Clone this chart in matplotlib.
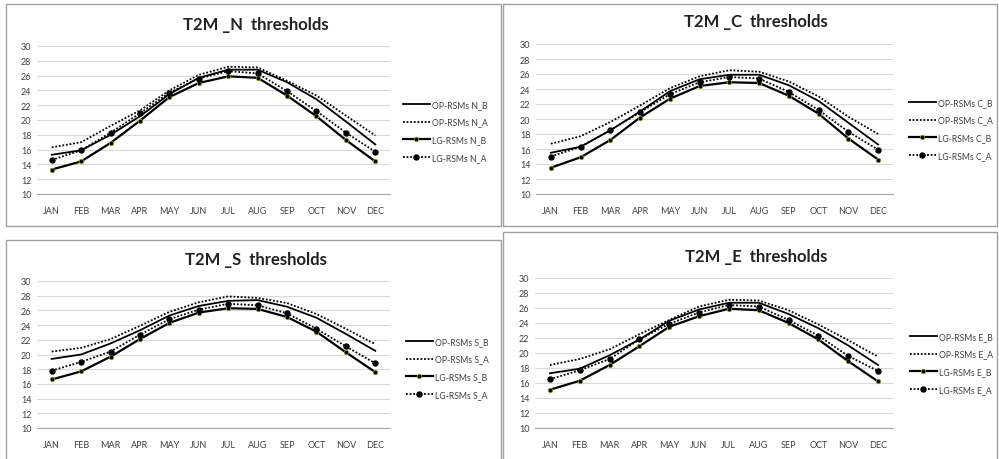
import matplotlib
matplotlib.use("Agg")
import matplotlib.pyplot as plt
from matplotlib.patches import Rectangle

plt.rcParams['font.family'] = ['Lato', 'DejaVu Sans']

months = ["JAN", "FEB", "MAR", "APR", "MAY", "JUN", "JUL", "AUG", "SEP", "OCT", "NOV", "DEC"]
regions = ["N", "C", "S", "E"]

# N region
N_OP_B = [15.3, 15.9, 18.0, 20.5, 23.5, 25.7, 26.8, 26.8, 25.1, 22.8, 19.8, 16.7]
N_OP_A = [16.3, 17.0, 19.2, 21.3, 24.0, 26.1, 27.2, 27.1, 25.3, 23.3, 20.6, 17.9]
N_LG_B = [13.3, 14.4, 16.9, 19.9, 23.1, 25.0, 25.9, 25.7, 23.3, 20.5, 17.3, 14.4]
N_LG_A = [14.6, 15.9, 18.3, 20.9, 23.7, 25.6, 26.6, 26.3, 23.9, 21.2, 18.3, 15.7]
# C region
C_OP_B = [15.5, 16.3, 18.5, 21.0, 23.7, 25.3, 25.9, 25.9, 24.5, 22.4, 19.5, 16.6]
C_OP_A = [16.7, 17.7, 19.6, 21.8, 24.1, 25.7, 26.5, 26.3, 25.0, 23.0, 20.3, 18.0]
C_LG_B = [13.5, 14.9, 17.2, 20.2, 22.7, 24.4, 24.9, 24.8, 23.1, 20.7, 17.4, 14.6]
C_LG_A = [15.0, 16.3, 18.5, 20.9, 23.3, 24.9, 25.6, 25.4, 23.6, 21.2, 18.3, 15.9]
# S region
S_OP_B = [19.4, 20.0, 21.5, 23.3, 25.3, 26.6, 27.3, 27.4, 26.5, 25.0, 22.8, 20.5]
S_OP_A = [20.4, 20.9, 22.1, 23.9, 25.8, 27.1, 27.9, 27.7, 27.0, 25.5, 23.5, 21.4]
S_LG_B = [16.6, 17.7, 19.7, 22.1, 24.3, 25.7, 26.3, 26.2, 25.1, 23.1, 20.3, 17.6]
S_LG_A = [17.8, 19.0, 20.4, 22.7, 24.8, 26.1, 26.9, 26.7, 25.6, 23.5, 21.1, 18.8]
# E region
E_OP_B = [17.3, 17.9, 19.7, 21.8, 24.3, 25.8, 26.7, 26.7, 25.2, 23.3, 21.0, 18.4]
E_OP_A = [18.4, 19.2, 20.5, 22.5, 24.4, 26.2, 27.1, 27.0, 25.7, 23.8, 21.7, 19.5]
E_LG_B = [15.1, 16.3, 18.4, 20.9, 23.5, 24.9, 25.9, 25.7, 24.0, 21.8, 18.9, 16.2]
E_LG_A = [16.5, 17.7, 19.2, 21.8, 23.9, 25.4, 26.4, 26.2, 24.4, 22.3, 19.6, 17.6]

data = {
    "N": (N_OP_B, N_OP_A, N_LG_B, N_LG_A),
    "C": (C_OP_B, C_OP_A, C_LG_B, C_LG_A),
    "S": (S_OP_B, S_OP_A, S_LG_B, S_LG_A),
    "E": (E_OP_B, E_OP_A, E_LG_B, E_LG_A),
}

W, H = 999, 460
fig = plt.figure(figsize=(W / 100, H / 100), dpi=100)
fig.patch.set_facecolor("white")

def fx(x):
    return x / W

def fy(y):
    return 1 - y / H

# panel layout in pixels: (axes left, right, top, bottom), (box l, t, r, b), title (x, y), legend (x, y)
layout = {
    "N": ((37, 390, 47, 195), (6, 5, 501, 227), (256, 25), (403, 101)),
    "C": ((536, 893, 45, 195), (503, 5, 997, 227), (756, 22), (909, 99)),
    "S": ((37, 390, 282, 429), (6, 241, 501, 462), (256, 260), (406, 338)),
    "E": ((535, 893, 279, 429), (503, 233, 997, 462), (756, 257), (910, 333)),
}

grid_c = "#d9d9d9"
text_c = "#404040"

for reg in regions:
    (l, r, t, b), (bl, bt, br, bb), (tx, ty), (lx, ly) = layout[reg]
    fig.patches.append(Rectangle((fx(bl), fy(bb)), fx(br - bl), (bb - bt) / H,
                                 transform=fig.transFigure, fill=False,
                                 edgecolor="#a0a0a0", linewidth=1.0))
    ax = fig.add_axes([fx(l), fy(b), fx(r - l), (b - t) / H])
    op_b, op_a, lg_b, lg_a = data[reg]
    x = list(range(len(months)))
    h1, = ax.plot(x, op_b, color="black", lw=1.3, ls="-", label=f"OP-RSMs {reg}_B", zorder=3)
    h2, = ax.plot(x, op_a, color="black", lw=1.3, ls=(0, (1, 1)), label=f"OP-RSMs {reg}_A", zorder=3)
    h3, = ax.plot(x, lg_b, color="black", lw=1.6, ls="-", marker="o", ms=3.2,
                  mfc="black", mec="#8a9a2a", mew=0.6, label=f"LG-RSMs {reg}_B", zorder=4)
    h4, = ax.plot(x, lg_a, color="black", lw=1.3, ls=(0, (1, 1)), marker="o", ms=3.6,
                  mfc="black", mec="black", label=f"LG-RSMs {reg}_A", zorder=4)
    ax.set_xlim(-0.5, 11.5)
    ax.set_ylim(10, 30)
    ax.set_yticks(range(10, 31, 2))
    ax.set_xticks(x)
    ax.set_xticklabels(months)
    ax.yaxis.grid(True, color=grid_c, lw=0.8)
    ax.set_axisbelow(True)
    for s in ("top", "right", "left"):
        ax.spines[s].set_visible(False)
    ax.spines["bottom"].set_color("#a6a6a6")
    ax.spines["bottom"].set_linewidth(0.8)
    ax.tick_params(axis="both", length=0, labelsize=6.5, colors=text_c, pad=9)
    ax.tick_params(axis="y", pad=4)
    fig.text(fx(tx), fy(ty), f"T2M _{reg}  thresholds", ha="center", va="center",
             fontsize=12, fontweight="bold", color="#222222")
    fig.legend(handles=[h1, h2, h3, h4], loc="upper left",
               bbox_to_anchor=(fx(lx), fy(ly)), frameon=False, fontsize=6.2,
               handlelength=3.1, handletextpad=0.25, labelspacing=1.0,
               borderaxespad=0, borderpad=0, labelcolor=text_c)

fig.savefig("out.png", dpi=100)
